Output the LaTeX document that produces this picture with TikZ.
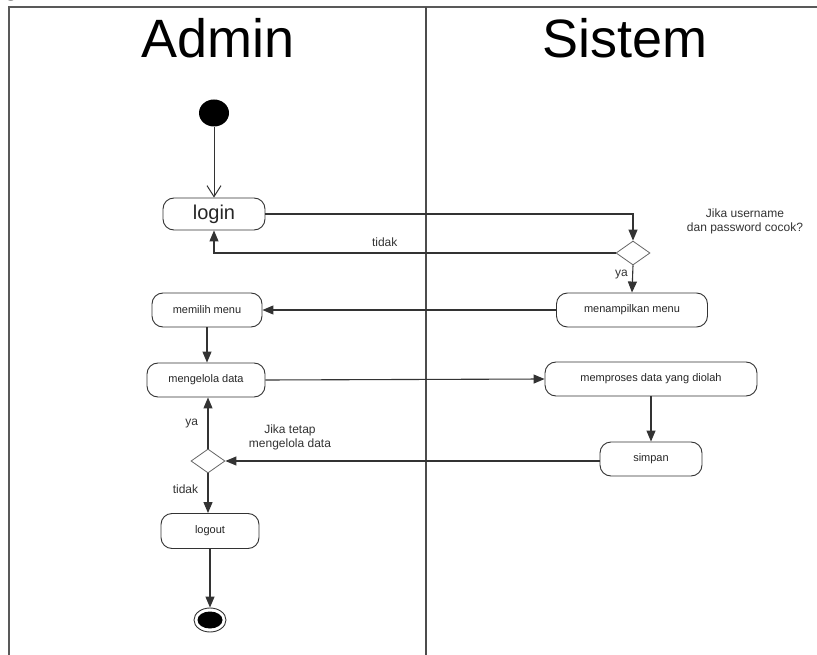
\documentclass[tikz,border=0pt]{standalone}
\usepackage{fontspec}
\setmainfont{Liberation Sans}
\newfontfamily\serifb{Liberation Serif}
\usetikzlibrary{arrows.meta,shapes.geometric}
\begin{document}
\begin{tikzpicture}[x=1pt,y=-1pt,
  act/.style={draw=black!80,line width=0.9pt,rounded corners=11pt,minimum height=34pt,inner sep=0pt,font=\fontsize{11}{12}\selectfont,text=black!85},
  dec/.style={draw=black!60,line width=0.8pt,diamond,minimum width=34pt,minimum height=24pt,inner sep=0pt,aspect=1.4},
  flow/.style={draw=black!80,line width=1.1pt,-{Triangle[width=9pt,length=11pt]}},
  lbl/.style={font=\fontsize{12}{14}\selectfont,text=black!80,align=center},
  hdr/.style={font=\fontsize{54}{58}\selectfont}]
\useasboundingbox (0,0) rectangle (817,655);
\fill[white] (0,0) rectangle (817,655);
% partial heading
\node[font=\serifb\bfseries\fontsize{20}{20}\selectfont,anchor=base] (hd) at (11,-3) {g};
% frame
\draw[black!65,line width=2pt] (9,700) -- (9,7) -- (830,7);
\draw[black!70,line width=1.6pt] (426,7) -- (426,700);
\node[hdr] (adm) at (218,38) {Admin};
\node[hdr] (sis) at (625,38) {Sistem};
% nodes
\node[fill=black,ellipse,minimum width=30pt,minimum height=27pt,inner sep=0pt] (start) at (214,113) {};
\node[act,minimum width=102pt,minimum height=32pt,font=\fontsize{20}{22}\selectfont] (login) at (214,214) {login};
\node[dec] (d1) at (633,253) {};
\node[act,minimum width=151pt] (tampil) at (632,310) {menampilkan menu};
\node[act,minimum width=110pt] (pilih) at (207,310) {memilih menu};
\node[act,minimum width=118pt] (kelola) at (206,380) {mengelola data};
\node[act,minimum width=212pt] (proses) at (651,379) {memproses data yang diolah};
\node[act,minimum width=102pt] (simpan) at (651,459) {simpan};
\node[dec] (d2) at (208,461) {};
\node[act,minimum width=98pt,minimum height=35pt] (logout) at (210,531) {logout};
\node[draw=black!80,line width=0.9pt,ellipse,minimum width=32pt,minimum height=24pt,inner sep=0pt] (end) at (210,620) {};
\node[fill=black,ellipse,minimum width=25pt,minimum height=17pt,inner sep=0pt] at (end.center) {};
% connectors
\draw[draw=black!80,line width=1pt,-{Straight Barb[width=14pt,length=11pt]}] (start) -- (login);
\draw[flow] (login.east) -| (d1.north);
\draw[flow] (d1.west) -| node[lbl,pos=0.2875,above=2pt] {tidak} (login.south);
\draw[flow] (d1.south) -- node[lbl,left=1pt,pos=0.35] {ya} (tampil.north);
\node[lbl,anchor=south] (q1) at (745,238) {Jika username\\dan password cocok?};
\draw[flow] (tampil.west) -- (pilih.east);
\draw[flow] (pilih.south) -- (pilih.south |- kelola.north);
\draw[flow] (kelola.east) -- (proses.west);
\draw[flow] (proses.south) -- (simpan.north);
\draw[flow] (simpan.west |- d2.east) -- (d2.east);
\node[lbl] (q2) at (290,437) {Jika tetap\\mengelola data};
\draw[flow] (d2.north) -- node[lbl,left=6pt] {ya} (d2.north |- kelola.south);
\draw[flow] (d2.south) -- node[lbl,left=6pt,pos=0.4] {tidak} (d2.south |- logout.north);
\draw[flow] (logout.south) -- (end.north);
\end{tikzpicture}
\end{document}
